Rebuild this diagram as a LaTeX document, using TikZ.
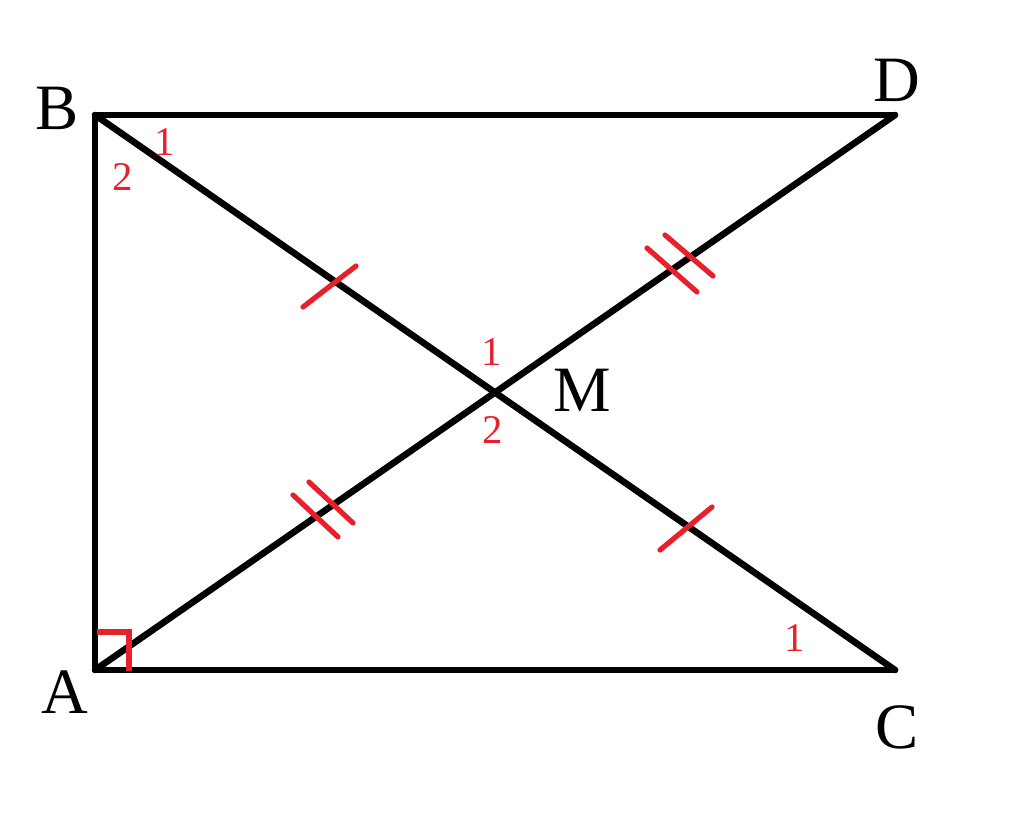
\documentclass[tikz,border=0pt]{standalone}
\usepackage{fontspec}
\setmainfont{Liberation Serif}
\usetikzlibrary{calc}
\definecolor{markred}{RGB}{232,32,44}

\begin{document}
\begin{tikzpicture}[x=0.025cm,y=-0.025cm,
    side/.style={line width=0.165cm,line join=round,line cap=round},
    tick/.style={markred,line width=0.13cm,line cap=round},
    vlabel/.style={font=\fontsize{46}{50}\selectfont,inner sep=0pt},
    alabel/.style={markred,font=\fontsize{29}{30}\selectfont,inner sep=0pt}]
    \useasboundingbox (0,0) rectangle (1024,825);
    \coordinate (A) at (95,670);
    \coordinate (B) at (95,115);
    \coordinate (C) at (895,670);
    \coordinate (D) at (895,115);
    \coordinate (M) at (495,392);
    % sides and diagonals
    \draw[side] (D) -- (B) -- (A) -- (C);
    \draw[side] (B) -- (C);
    \draw[side] (A) -- (D);
    % right angle at A
    \draw[tick,line cap=butt] (97,632) -- (129,632) -- (129,671);
    % equal parts
    \draw[tick] (303,307) -- (356,266);
    \draw[tick] (660,550) -- (712,507);
    \draw[tick] (293,495) -- (338,537);
    \draw[tick] (309,482) -- (353,523);
    \draw[tick] (647,248) -- (697,292);
    \draw[tick] (665,235) -- (713,276);
    % vertex names
    \node[vlabel] (nA) at (65,692) {A};
    \node[vlabel] (nB) at (57,108) {B};
    \node[vlabel] (nC) at (897,727) {C};
    \node[vlabel] (nD) at (897,80) {D};
    \node[vlabel] (nM) at (582,390) {M};
    % angle numbers
    \node[alabel] (b1) at (165,142) {1};
    \node[alabel] (b2) at (123,177) {2};
    \node[alabel] (m1) at (492,352) {1};
    \node[alabel] (m2) at (493,430) {2};
    \node[alabel] (c1) at (795,638) {1};
\end{tikzpicture}
\end{document}
